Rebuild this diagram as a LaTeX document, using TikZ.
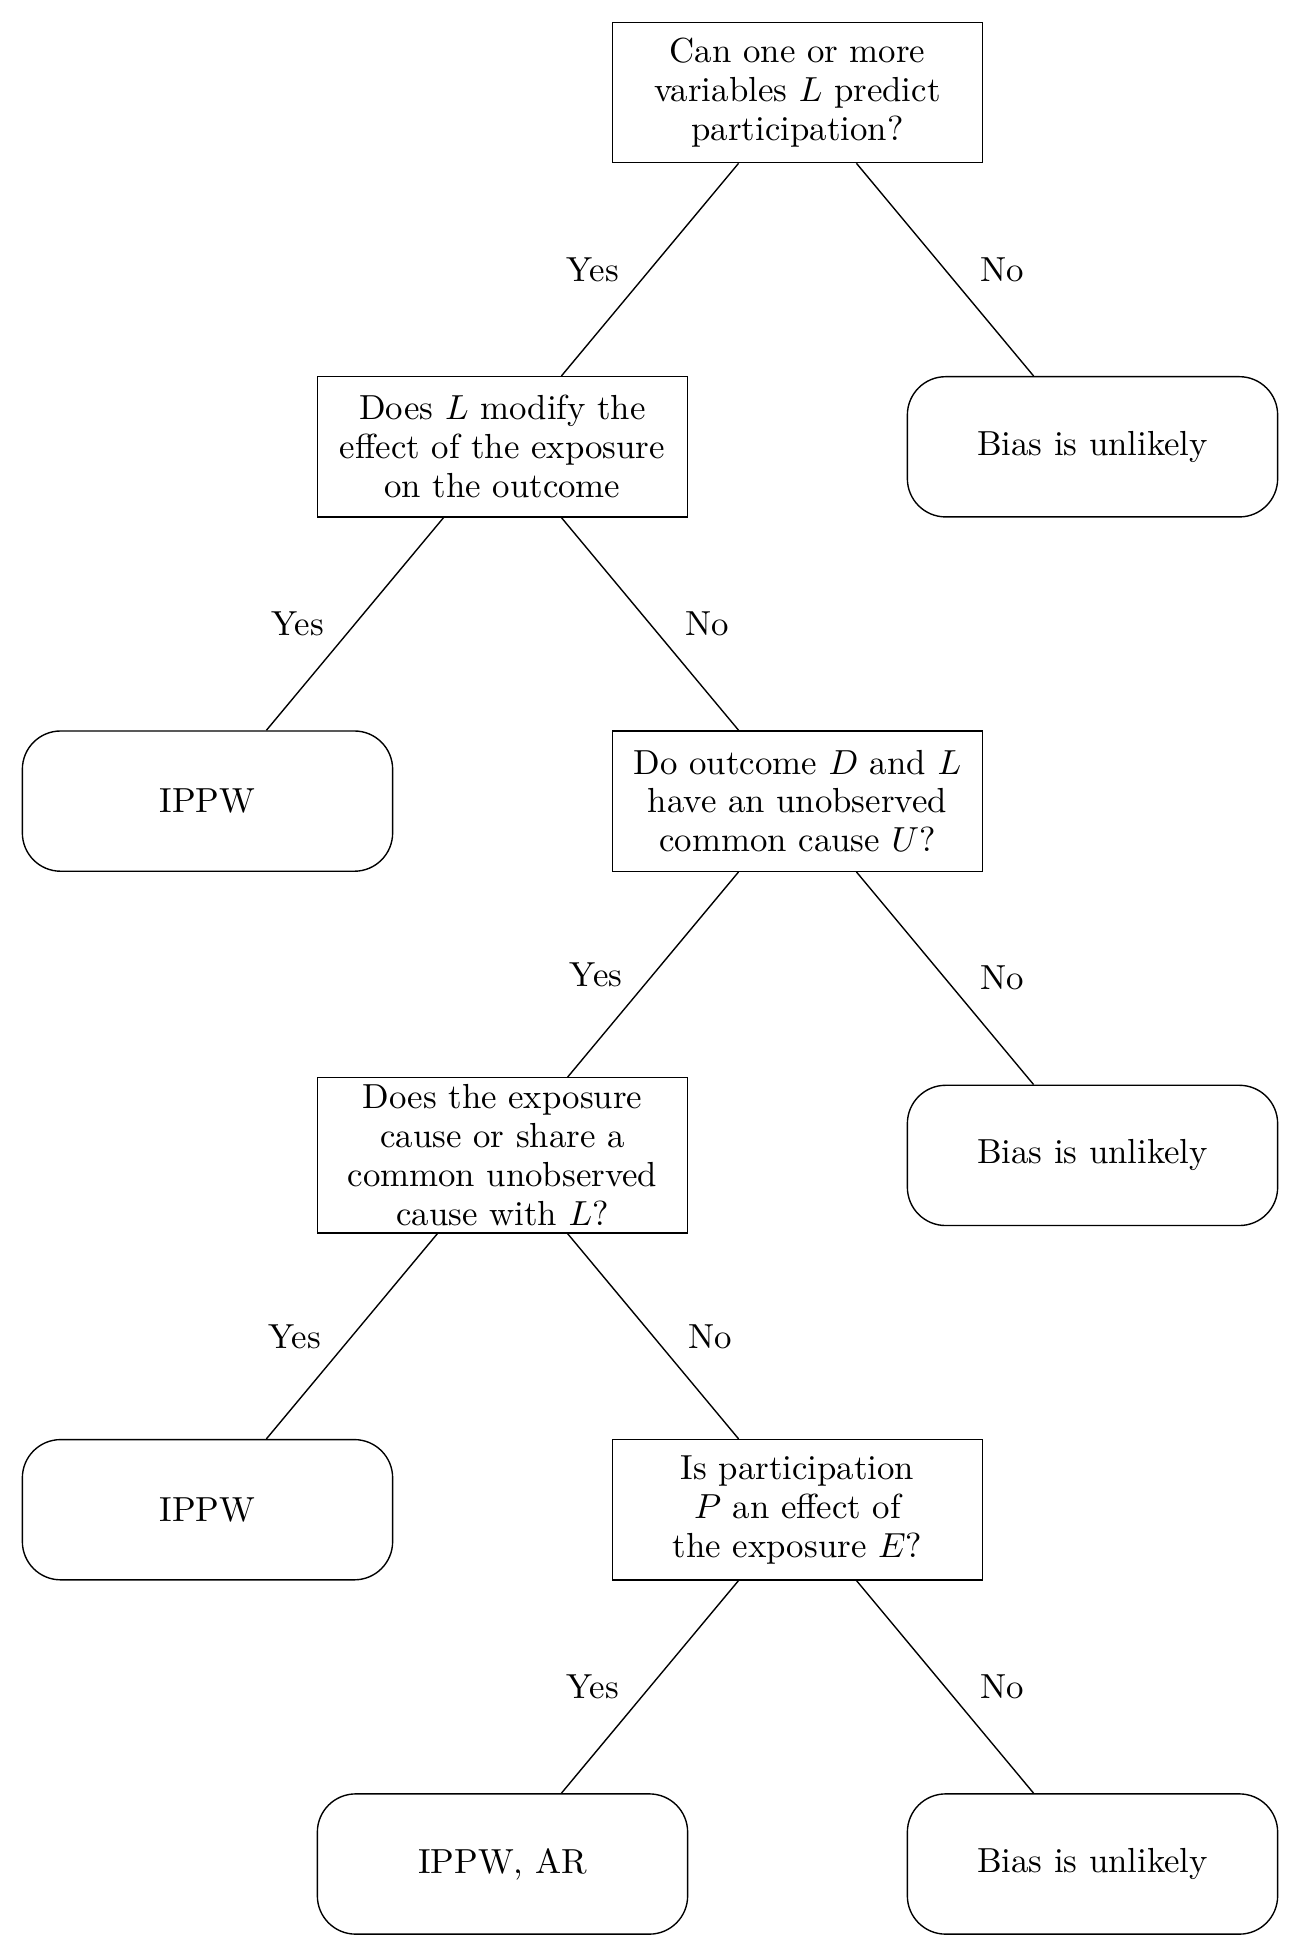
\documentclass[tikz,border=0pt]{standalone}
\begin{document}
\begin{tikzpicture}[
  x=0.287356pt, y=-0.287356pt,
  question/.style={draw, rectangle, line width=0.4pt, inner sep=2pt,
    text width=3.6cm, align=center, minimum height=40.3pt,
    font=\fontsize{10pt}{11.2pt}\selectfont},
  outcome/.style={draw, rectangle, rounded corners=11pt, line width=0.4pt,
    minimum width=106.4pt, minimum height=40.3pt, align=center,
    font=\fontsize{10pt}{11.2pt}\selectfont},
  branch/.style={line width=0.4pt},
  yeslbl/.style={midway, inner sep=0pt, xshift=-16.4pt},
  nolbl/.style={midway, inner sep=0pt, xshift=16.4pt}
]
\useasboundingbox (0,0) rectangle (1300,1957);

% decision and result nodes, one row per level
\node[question] (q1) at (797.5,92.5)  {Can one or more\\ variables $L$ predict\\ participation?};

\node[question] (q2) at (502.5,446.8) {Does $L$ modify the\\ effect of the exposure\\ on the outcome};
\node[outcome]  (b1) at (1092.5,446.8) {Bias is unlikely};

\node[outcome]  (i1) at (207.5,801.1) {IPPW};
\node[question] (q3) at (797.5,801.1) {Do outcome $D$ and $L$\\ have an unobserved\\ common cause $U$?};

\node[question] (q4) at (502.5,1155.4) {Does the exposure\\ cause or share a\\ common unobserved\\ cause with $L$?};
\node[outcome]  (b2) at (1092.5,1155.4) {Bias is unlikely};

\node[outcome]  (i2) at (207.5,1509.7) {IPPW};
\node[question] (q5) at (797.5,1509.7) {Is participation\\ $P$ an effect of\\ the exposure $E$?};

\node[outcome]  (i3) at (502.5,1864) {IPPW, AR};
\node[outcome]  (b3) at (1092.5,1864) {Bias is unlikely};

% branches
\draw[branch] (q1) -- node[yeslbl] {Yes} (q2);
\draw[branch] (q1) -- node[nolbl]  {No}  (b1);
\draw[branch] (q2) -- node[yeslbl] {Yes} (i1);
\draw[branch] (q2) -- node[nolbl]  {No}  (q3);
\draw[branch] (q3) -- node[yeslbl] {Yes} (q4);
\draw[branch] (q3) -- node[nolbl]  {No}  (b2);
\draw[branch] (q4) -- node[yeslbl] {Yes} (i2);
\draw[branch] (q4) -- node[nolbl]  {No}  (q5);
\draw[branch] (q5) -- node[yeslbl] {Yes} (i3);
\draw[branch] (q5) -- node[nolbl]  {No}  (b3);
\end{tikzpicture}
\end{document}
